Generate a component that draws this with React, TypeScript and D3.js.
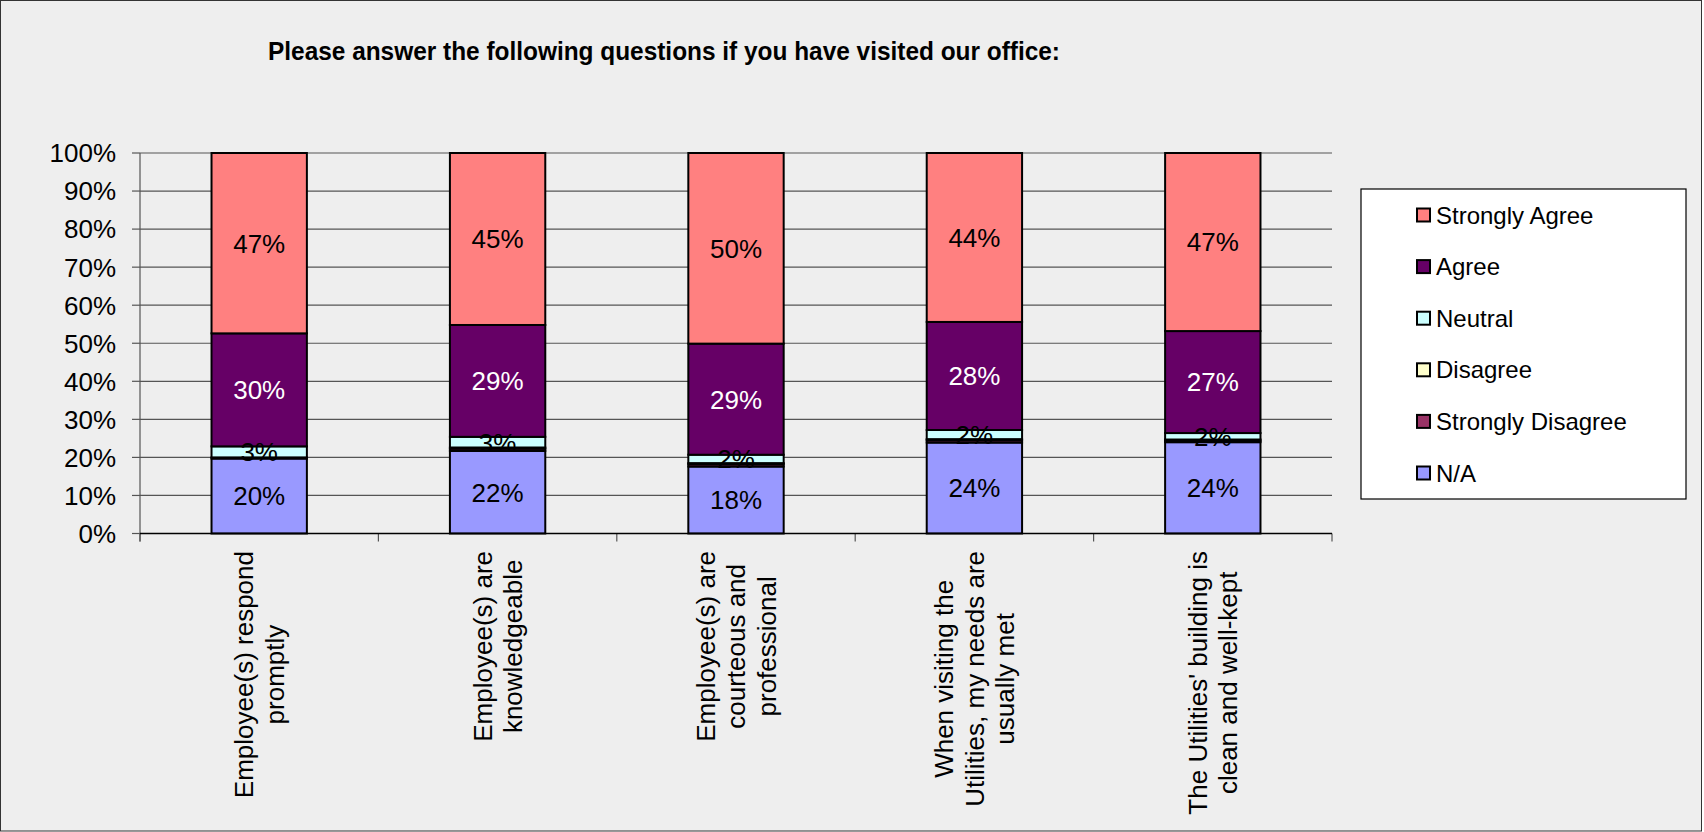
import React from "react";
import * as d3 from "d3";

const categories: string[][] = [
  ["Employee(s) respond", "promptly"],
  ["Employee(s) are", "knowledgeable"],
  ["Employee(s) are", "courteous and", "professional"],
  ["When visiting the", "Utilities, my needs are", "usually met"],
  ["The Utilities' building is", "clean and well-kept"],
];

const seriesNames = ["N/A", "Strongly Disagree", "Disagree", "Neutral", "Agree", "Strongly Agree"];
const naValues = [19.7, 21.7, 17.6, 23.9, 24.0];
const stronglyDisagreeValues = [0.3, 0.6, 0.6, 0.6, 0.4];
const disagreeValues = [0.0, 0.3, 0.3, 0.3, 0.3];
const neutralValues = [2.9, 2.8, 2.2, 2.4, 1.7];
const agreeValues = [29.7, 29.4, 29.2, 28.4, 26.8];
const stronglyAgreeValues = [47.4, 45.2, 50.1, 44.4, 46.8];

const seriesColors = ["#9999FF", "#993366", "#FFFFCC", "#CCFFFF", "#660066", "#FF8080"];
const labelColors = ["#000", "#fff", "#000", "#000", "#fff", "#000"];
const legendOrder = ["Strongly Agree", "Agree", "Neutral", "Disagree", "Strongly Disagree", "N/A"];
const yTicks = [0, 10, 20, 30, 40, 50, 60, 70, 80, 90, 100];
const title = "Please answer the following questions if you have visited our office:";

const W = 1704;
const H = 832;
const FONT = "Liberation Sans, Arial, sans-serif";

export default function App() {
  const valuesBySeries = [naValues, stronglyDisagreeValues, disagreeValues, neutralValues, agreeValues, stronglyAgreeValues];
  const rows = categories.map((c, i) => {
    const r: any = { idx: i };
    seriesNames.forEach((s, k) => (r[s] = valuesBySeries[k][i]));
    return r;
  });
  const stacked = d3.stack<any>().keys(seriesNames)(rows);

  const x = d3.scaleBand<number>().domain(d3.range(categories.length)).range([140, 1332]).paddingInner(0.6).paddingOuter(0.3);
  const band = d3.scaleBand<number>().domain(d3.range(categories.length)).range([140, 1332]);
  const y = d3.scaleLinear().domain([0, 100]).range([533.5, 153]);
  const pct = d3.format(".0%");

  return (
    <svg width={W} height={H} style={{ position: "absolute", left: 0, top: 0 }} fontFamily={FONT}>
      <rect x={0.5} y={0.5} width={W - 3} height={H - 1.5} fill="#EEEEEE" stroke="#333" strokeWidth={1} />
      <text x={268} y={60} fontSize={25} fontWeight="bold" textLength={792} lengthAdjust="spacingAndGlyphs" fill="#000">
        {title}
      </text>

      {/* gridlines */}
      {yTicks.map((t) => (
        <g key={t}>
          {t > 0 && <line x1={140} x2={1332} y1={y(t)} y2={y(t)} stroke="#555" strokeWidth={1.2} />}
          <line x1={132} x2={140} y1={y(t)} y2={y(t)} stroke="#555" strokeWidth={1.2} />
          <text x={116} y={y(t)} dy="0.36em" textAnchor="end" fontSize={26} fill="#000">
            {t}%
          </text>
        </g>
      ))}
      <line x1={140} x2={140} y1={y(100)} y2={y(0) + 8} stroke="#555" strokeWidth={1.2} />
      {d3.range(categories.length + 1).map((i) => {
        const xx = i < categories.length ? (band(i) as number) : 1332;
        return <line key={i} x1={xx} x2={xx} y1={y(0)} y2={y(0) + 8} stroke="#555" strokeWidth={1.2} />;
      })}

      {/* bars */}
      {stacked.map((s, k) => (
        <g key={s.key}>
          {s.map((d, i) => (
            <rect
              key={i}
              x={x(i)}
              y={y(d[1])}
              width={x.bandwidth()}
              height={Math.max(0, y(d[0]) - y(d[1]))}
              fill={seriesColors[k]}
              stroke="#000"
              strokeWidth={2}
            />
          ))}
        </g>
      ))}
      <line x1={140} x2={1332} y1={y(0)} y2={y(0)} stroke="#000" strokeWidth={1.5} />

      {/* data labels */}
      {stacked.map((s, k) => (
        <g key={s.key + "l"}>
          {s.map((d, i) => {
            const v = d[1] - d[0];
            if (v < 1) return null;
            return (
              <text
                key={i}
                x={(x(i) as number) + x.bandwidth() / 2}
                y={y((d[0] + d[1]) / 2)}
                dy="0.36em"
                textAnchor="middle"
                fontSize={26}
                fill={labelColors[k]}
              >
                {pct(v / 100)}
              </text>
            );
          })}
        </g>
      ))}

      {/* category labels */}
      {categories.map((lines, i) => {
        const cx = (band(i) as number) + band.bandwidth() / 2;
        const n = lines.length;
        const lh = 30.5;
        return (
          <g key={i}>
            {lines.map((l, j) => (
              <text
                key={j}
                transform={`translate(${cx + (j - (n - 1) / 2) * lh},0) rotate(-90)`}
                x={0}
                y={0}
                dy="0.36em"
                fontSize={26}
                textAnchor="middle"
                className={"cat" + i}
                fill="#000"
              >
                {l}
              </text>
            ))}
          </g>
        );
      })}
      <CategoryLayout />

      {/* legend */}
      <rect x={1361} y={189} width={325} height={310} fill="#fff" stroke="#000" strokeWidth={1.2} />
      {legendOrder.map((name, r) => {
        const k = seriesNames.indexOf(name);
        const cy = 215 + r * 51.6;
        return (
          <g key={name}>
            <rect x={1417} y={cy - 6.5} width={13} height={13} fill={seriesColors[k]} stroke="#000" strokeWidth={2} />
            <text x={1436} y={cy} dy="0.36em" fontSize={24} fill="#000">
              {name}
            </text>
          </g>
        );
      })}
    </svg>
  );
}

// positions each rotated category label block so the longest line starts (top end) at y = 551
function CategoryLayout() {
  const ref = React.useRef<SVGGElement>(null);
  React.useEffect(() => {
    const svg = ref.current?.ownerSVGElement;
    if (!svg) return;
    categories.forEach((_, i) => {
      const nodes = Array.from(svg.querySelectorAll<SVGTextElement>(".cat" + i));
      const maxLen = d3.max(nodes, (n) => n.getComputedTextLength()) || 0;
      const cy = 551 + maxLen / 2;
      nodes.forEach((n) => {
        const t = n.getAttribute("transform") || "";
        const m = t.match(/translate\(([-\d.]+),/);
        const tx = m ? m[1] : "0";
        n.setAttribute("transform", `translate(${tx},${cy}) rotate(-90)`);
      });
    });
  }, []);
  return <g ref={ref} />;
}
